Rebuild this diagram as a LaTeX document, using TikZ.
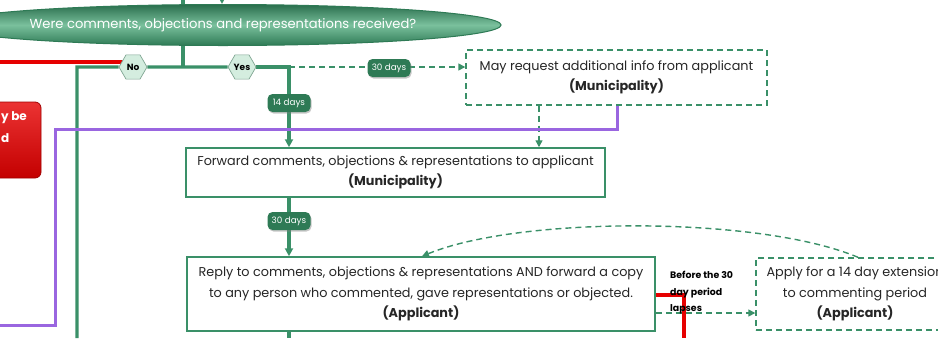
\documentclass[tikz,border=0pt]{standalone}
\usepackage{fontspec}
\setmainfont{Poppins}
\usetikzlibrary{shapes.geometric,arrows.meta,shadows}
\pgfdeclarelayer{bg}
\pgfsetlayers{bg,main}
\definecolor{gr}{HTML}{3A9068}
\definecolor{grdark}{HTML}{2E7A55}
\definecolor{grlight}{HTML}{8FD0AE}
\definecolor{pu}{HTML}{9A66E0}
\definecolor{rd}{HTML}{E60000}
\definecolor{hexfill}{HTML}{D4EDDF}
\definecolor{hexline}{HTML}{7FA592}
\begin{document}
\begin{tikzpicture}[x=1pt,y=-1pt,
  gline/.style={draw=gr,line width=3.2pt},
  tip/.style={-{Triangle[length=8pt,width=8pt]}},
  dtip/.style={-{Triangle[length=7pt,width=7pt]}},
  dline/.style={draw=gr,line width=1.4pt,dash pattern=on 6pt off 4pt},
  pline/.style={draw=pu,line width=3pt},
  rline/.style={draw=rd,line width=3.6pt},
  txt/.style={font=\fontsize{12.8}{20.5}\selectfont,align=center,text=black!85},
  sbox/.style={txt,draw=gr,line width=1.5pt,fill=white,inner sep=0pt},
  dbox/.style={txt,dline,fill=white,inner sep=0pt},
  hexa/.style={regular polygon,regular polygon sides=6,draw=hexline,line width=0.7pt,
     fill=hexfill,inner sep=0pt,minimum size=28pt,font=\fontsize{9}{10}\selectfont\bfseries},
  days/.style={rounded corners=5pt,fill=grdark,text=white,inner sep=0pt,minimum width=43pt,
     minimum height=18pt,font=\fontsize{8.8}{10}\selectfont,
     drop shadow={opacity=0.45,shadow xshift=1pt,shadow yshift=-1.5pt}},
]
\useasboundingbox (0,0) rectangle (938,338);

% decision ellipse
\node[ellipse,draw=grdark,line width=1pt,top color=grdark!90!black,bottom color=grdark,middle color=grlight!75!gr,
  minimum width=442pt,minimum height=41pt,text=white,font=\fontsize{13.1}{15}\selectfont] (q) at (223,25)
  {Were comments, objections and representations received?};

\node[hexa] (no) at (133,67) {No};
\node[hexa] (yes) at (242,67) {Yes};

\node[days] (d14) at (289,103) {14 days};
\node[days] (d30a) at (389,68) {30 days};
\node[days] (d30) at (289,221) {30 days};

\node[dbox,minimum width=301pt,minimum height=55pt] (req) at (616.5,77.5)
  {May request additional info from applicant\\\textbf{(Municipality)}};
\node[sbox,minimum width=419pt,minimum height=49pt] (fwd) at (395.5,172.5)
  {Forward comments, objections \& representations to applicant\\\textbf{(Municipality)}};
\node[sbox,minimum width=468pt,minimum height=74pt] (rep) at (421,294)
  {Reply to comments, objections \& representations AND forward a copy\\to any person who commented, gave representations or objected.\\\textbf{(Applicant)}};
\node[dbox,minimum width=198pt,minimum height=72pt] (app) at (855,294)
  {Apply for a 14 day extension\\to commenting period\\\textbf{(Applicant)}};

% red box at the left edge
\node[rounded corners=6pt,draw=rd!70!black,line width=0.8pt,top color=rd!80!white,bottom color=rd!85!black,
  minimum width=72pt,minimum height=76pt] (rb) at (5,140) {};
\node[anchor=west,text=white,font=\fontsize{12}{14}\selectfont\bfseries,inner sep=0pt] (rb1) at (1,118) {y be};
\node[anchor=west,text=white,font=\fontsize{12}{14}\selectfont\bfseries,inner sep=0pt] (rb2) at (1,138) {d};

\node[anchor=north west,align=left,font=\fontsize{9.4}{16.5}\selectfont\bfseries,inner sep=0pt] (bt) at (670,271)
  {Before the 30\\day period\\lapses};

\coordinate (t1) at (183,0);
\coordinate (t2) at (222,0);
\coordinate (xl) at (77,338);
\coordinate (xr) at (539,0);
\coordinate (p1) at (617,129);
\coordinate (p2) at (55,129);
\coordinate (p3) at (55,325);
\coordinate (p4) at (0,325);
\coordinate (r0) at (0,62);
\coordinate (r1) at (684,295);
\coordinate (r2) at (684,338);
\coordinate (bot) at (289,338);

\begin{pgfonlayer}{bg}
  \draw[gline] (t1) -- (t1 |- q.north);
  \draw[gline,tip] (t2) -- (t2 |- q.north);
  \draw[gline] (t1 |- q.south) -- (t1 |- no);
  \draw[gline] (no) -- (yes);
  \draw[gline] (no) -- (no -| xl) -- (xl);
  \draw[rline] (r0) -- (r0 -| no);
  \draw[gline,tip] (yes) -| (d14 |- fwd.north);
  \draw[dline,dtip] (d14 |- yes) -- (req.west |- yes);
  \draw[dline,dtip] (xr |- req.south) -- (xr |- fwd.north);
  \draw[pline] (p1 |- req.south) -- (p1) -- (p2) -- (p3) -- (p4);
  \draw[gline,tip] (d30 |- fwd.south) -- (d30 |- rep.north);
  \draw[gline] (d30 |- rep.south) -- (bot);
  \draw[rline] (r1 -| rep.east) -- (r1) -- (r2);
  \draw[dline,dtip] (rep.east |- 0,313) -- (app.west |- 0,313);
  \draw[dline,dtip] ([xshift=3pt]app.north) .. controls (760,216) and (520,216) .. ([xshift=1pt]rep.north);
\end{pgfonlayer}
\end{tikzpicture}
\end{document}
